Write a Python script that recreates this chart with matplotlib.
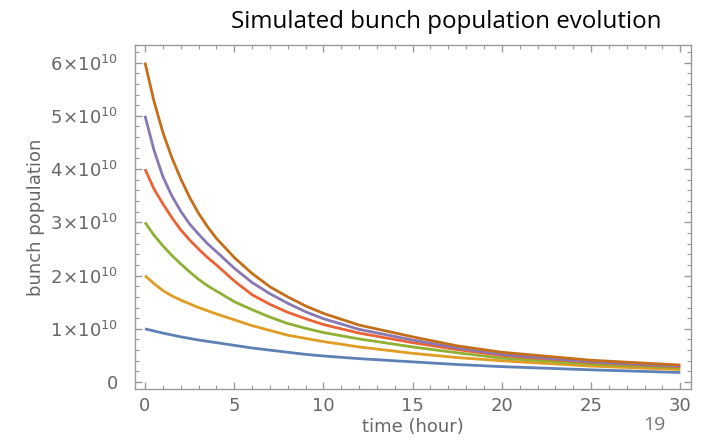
import numpy as np
import matplotlib
matplotlib.use("Agg")
import matplotlib.pyplot as plt
from matplotlib.ticker import MultipleLocator, FuncFormatter

# time in hours, bunch population in units of 1e10
t = [0, 0.5, 1, 1.5, 2, 2.5, 3, 3.5, 4, 5, 6, 7, 8, 9, 10, 12, 15, 17.5, 20, 25, 30]
n1 = [1.00, 0.96, 0.92, 0.885, 0.85, 0.82, 0.79, 0.765, 0.74, 0.69, 0.64, 0.60, 0.56, 0.52, 0.49, 0.44, 0.38, 0.33, 0.29, 0.23, 0.18]
n2 = [2.00, 1.85, 1.72, 1.62, 1.54, 1.47, 1.40, 1.34, 1.28, 1.17, 1.06, 0.97, 0.88, 0.82, 0.76, 0.66, 0.54, 0.46, 0.40, 0.30, 0.235]
n3 = [3.00, 2.76, 2.56, 2.38, 2.22, 2.07, 1.93, 1.81, 1.71, 1.51, 1.36, 1.22, 1.10, 1.01, 0.93, 0.81, 0.66, 0.55, 0.45, 0.34, 0.27]
n4 = [4.00, 3.63, 3.35, 3.09, 2.86, 2.67, 2.50, 2.34, 2.20, 1.90, 1.64, 1.46, 1.31, 1.19, 1.08, 0.92, 0.74, 0.61, 0.50, 0.37, 0.29]
n5 = [5.00, 4.36, 3.86, 3.50, 3.21, 2.97, 2.78, 2.60, 2.45, 2.14, 1.87, 1.66, 1.48, 1.32, 1.19, 0.99, 0.79, 0.64, 0.52, 0.38, 0.30]
n6 = [6.00, 5.28, 4.69, 4.22, 3.82, 3.47, 3.17, 2.92, 2.70, 2.34, 2.04, 1.79, 1.60, 1.43, 1.29, 1.07, 0.85, 0.68, 0.56, 0.41, 0.32]

series = [n1, n2, n3, n4, n5, n6]
colors = ['#5E81B5', '#E19C24', '#8FB032', '#EB6235', '#8778B3', '#C56E1A']

plt.rcParams['font.family'] = 'DejaVu Sans'
plt.rcParams['mathtext.fontset'] = 'dejavusans'

fig = plt.figure(figsize=(7.04, 4.46), dpi=100)
ax = fig.add_axes([135/704, 1-389/446, 556/704, 344/446])

for s, c in zip(series, colors):
    ax.plot(t, np.array(s)*1e10, color=c, lw=2.0, solid_capstyle='butt')

ax.set_xlim(-0.56, 30.6)
ax.set_ylim(-0.13e10, 6.33e10)

ax.xaxis.set_major_locator(MultipleLocator(5))
ax.xaxis.set_minor_locator(MultipleLocator(1))
ax.yaxis.set_major_locator(MultipleLocator(1e10))
ax.yaxis.set_minor_locator(MultipleLocator(0.2e10))

def yfmt(v, pos):
    k = int(round(v/1e10))
    if k == 0:
        return '0'
    return r'$%d\!\times\!10^{10}$' % k

ax.yaxis.set_major_formatter(FuncFormatter(yfmt))

gray = '#999999'
lab = '#666666'
for sp in ax.spines.values():
    sp.set_color(gray)
    sp.set_linewidth(1.0)
ax.tick_params(which='both', direction='in', top=True, right=True, color=gray, labelcolor=lab)
ax.tick_params(which='major', length=5, width=1.0, labelsize=13)
ax.tick_params(which='minor', length=3, width=0.8)
ax.tick_params(axis='y', which='major', pad=12)
ax.tick_params(axis='x', which='major', pad=6)

ax.set_xlabel('time (hour)', fontsize=13, color=lab, labelpad=2)
ax.set_ylabel('bunch population', fontsize=13, color=lab, labelpad=4)

fig.text(446/704, 1-22/446, 'Simulated bunch population evolution',
         ha='center', va='center', fontsize=17.4, family='Open Sans', color='black')
fig.text(654/704, 1-425/446, '19', ha='center', va='center', fontsize=14,
         family='Open Sans', color='#777777')

fig.savefig('out.png', dpi=100)
